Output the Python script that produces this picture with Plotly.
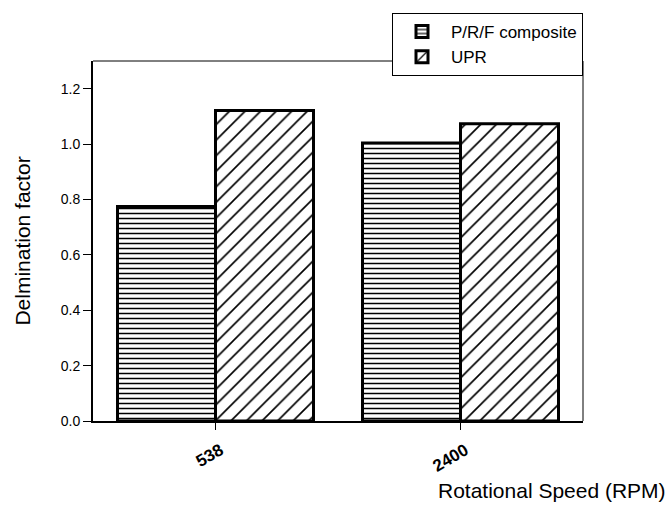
import plotly.graph_objects as go

categories = ["538", "2400"]
prf_values = [0.775, 1.004]
upr_values = [1.121, 1.073]
series_names = ["P/R/F composite", "UPR"]
y_ticks = [0, 0.2, 0.4, 0.6, 0.8, 1.0, 1.2]

FONT = "Liberation Sans, Arial, sans-serif"

fig = go.Figure()
fig.add_trace(go.Bar(
    x=categories, y=prf_values, name=series_names[0],
    marker=dict(color="white", line=dict(color="black", width=3),
                pattern=dict(shape="-", size=5, solidity=0.3, fgcolor="black",
                             bgcolor="white", fgopacity=1)),
))
fig.add_trace(go.Bar(
    x=categories, y=upr_values, name=series_names[1],
    marker=dict(color="white", line=dict(color="black", width=3),
                pattern=dict(shape="/", size=11, solidity=0.15, fgcolor="black",
                             bgcolor="white", fgopacity=1)),
))

fig.update_layout(
    width=672, height=507,
    margin=dict(l=93, r=89, t=61, b=86, autoexpand=False),
    paper_bgcolor="white", plot_bgcolor="white",
    barmode="group", bargap=0.2, bargroupgap=0,
    font=dict(family=FONT, color="black"),
    showlegend=True,
    legend=dict(x=1, xanchor="right", y=1 + 48 / 360, yanchor="top",
                bordercolor="black", borderwidth=1, bgcolor="white",
                font=dict(size=17, family=FONT), tracegroupgap=0,
                itemwidth=48),
    xaxis=dict(range=[-0.5, 1.5], showline=True, linecolor="black", linewidth=2,
               mirror=False, ticks="outside", ticklen=7, tickwidth=1, tickcolor="black",
               tickangle=-30, tickfont=dict(size=17, family=FONT, weight="bold"),
               ticklabelshift=5, ticklabelstandoff=4,
               showgrid=False, zeroline=False, automargin=False),
    yaxis=dict(range=[0, 1.3], showline=True, linecolor="black", linewidth=2,
               ticks="outside", ticklen=8, tickwidth=1, tickcolor="black",
               tickvals=y_ticks, tickformat=".1f",
               tickfont=dict(size=14, family=FONT),
               title=dict(text="Delmination factor", font=dict(size=21, family=FONT), standoff=24),
               showgrid=False, zeroline=False, automargin=False),
    yaxis2=dict(range=[0, 1.3], overlaying="y", side="left", showline=False,
                ticks="inside", ticklen=8, tickwidth=1, tickcolor="black",
                tickvals=y_ticks, showticklabels=False, showgrid=False, zeroline=False),
    shapes=[
        dict(type="line", xref="paper", yref="paper", x0=0, x1=1, y0=1, y1=1,
             line=dict(color="black", width=1)),
        dict(type="line", xref="paper", yref="paper", x0=1, x1=1, y0=0, y1=1,
             line=dict(color="black", width=1)),
    ],
    annotations=[
        dict(text="Rotational Speed (RPM)", xref="paper", yref="paper",
             x=1.0, y=0, xanchor="right", yanchor="middle", showarrow=False,
             xshift=85, yshift=-69, font=dict(size=21, family=FONT)),
    ],
)

fig.write_html("out.html")
